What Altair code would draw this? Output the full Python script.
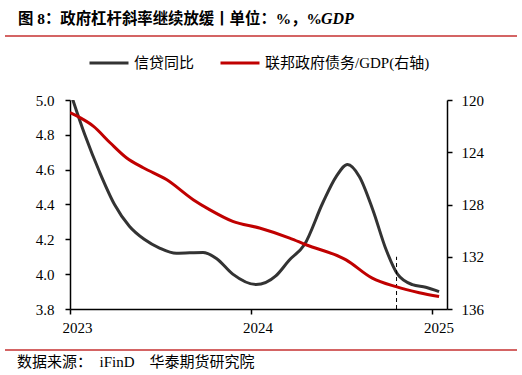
import altair as alt
import pandas as pd

# ---- data ----
series_names = ["信贷同比", "联邦政府债务/GDP(右轴)"]

credit_dates = ["2023-01-01", "2023-01-31", "2023-03-02", "2023-04-01", "2023-05-01",
                "2023-05-31", "2023-07-01", "2023-08-04", "2023-09-27", "2023-10-24",
                "2023-11-26", "2024-01-12", "2024-02-21", "2024-03-19", "2024-04-19",
                "2024-05-26", "2024-06-22", "2024-07-15", "2024-08-08", "2024-09-04",
                "2024-10-01", "2024-10-24", "2024-11-23", "2024-12-20", "2025-01-16"]
credit_values = [5.05, 4.80, 4.585, 4.40, 4.275,
                 4.20, 4.15, 4.12, 4.125, 4.09,
                 4.00, 3.94, 3.99, 4.08, 4.17,
                 4.41, 4.56, 4.63, 4.56, 4.37,
                 4.14, 4.00, 3.94, 3.925, 3.90]

debt_dates = ["2023-01-01", "2023-01-21", "2023-02-17", "2023-03-23", "2023-04-25",
              "2023-05-29", "2023-07-15", "2023-09-07", "2023-10-10", "2023-11-26",
              "2024-01-19", "2024-03-20", "2024-04-22", "2024-07-12", "2024-09-03",
              "2024-10-21", "2024-12-07", "2025-01-16"]
debt_values = [120.97, 121.35, 122.0, 123.27, 124.42,
               125.19, 126.09, 127.63, 128.39, 129.29,
               129.8, 130.57, 131.08, 132.24, 133.64,
               134.29, 134.75, 135.05]

marker_date = ["2024-10-22"]
marker_low = [3.8]
marker_high = [4.1]

years = [2023, 2024, 2025]
year_label_dates = ["2023-01-16", "2024-01-16", "2025-01-16"]
year_labels = ["2023", "2024", "2025"]
left_ticks = [3.8, 4.0, 4.2, 4.4, 4.6, 4.8, 5.0]
right_ticks = [120, 124, 128, 132, 136]

title_main = ["图 8：政府杠杆斜率继续放缓丨单位：%，%"]
title_tail = ["GDP"]
source_note = ["数据来源：\u00a0\u00a0iFinD\u00a0\u00a0\u00a0\u00a0华泰期货研究院"]

# ---- styles ----
SERIF = "Liberation Serif, Noto Sans CJK SC"
DARK = "#333333"
RED = "#c00000"

credit_df = pd.DataFrame({"date": credit_dates, "value": credit_values,
                          "series": series_names[0]})
debt_df = pd.DataFrame({"date": debt_dates, "value": debt_values,
                        "series": series_names[1]})
marker_df = pd.DataFrame({"date": marker_date, "value": marker_low, "value2": marker_high})
year_df = pd.DataFrame({"date": year_label_dates, "label": year_labels})

color_scale = alt.Scale(domain=series_names, range=[DARK, RED])

x_scale = alt.Scale(domain=[alt.DateTime(year=2023, month=1, date=1),
                            alt.DateTime(year=2025, month=2, date=1)])
x_axis = alt.Axis(values=[alt.DateTime(year=y, month=1, date=1) for y in years],
                  title=None, grid=False, labels=False)
x_enc = alt.X("date:T", scale=x_scale, axis=x_axis)

left_axis = alt.Axis(values=left_ticks, format=".1f", orient="left", title=None,
                     grid=False, labelPadding=11)
left_scale = alt.Scale(domain=[3.8, 5.0], zero=False, nice=False)

legend = alt.Legend(orient="none", legendX=18, legendY=-58, direction="horizontal",
                    title=None, symbolType="stroke", symbolSize=1521,
                    symbolStrokeWidth=3, labelFont=SERIF, labelFontSize=15,
                    labelColor="black", columnPadding=19, labelOffset=4, padding=0,
                    labelLimit=400)

black = alt.Chart(credit_df).mark_line(strokeWidth=3, interpolate="monotone", clip=True).encode(
    x=x_enc,
    y=alt.Y("value:Q", scale=left_scale, axis=left_axis),
    color=alt.Color("series:N", scale=color_scale, legend=legend),
)

marker = alt.Chart(marker_df).mark_rule(strokeWidth=1, strokeDash=[4, 3], color="black").encode(
    x=x_enc,
    y=alt.Y("value:Q", scale=left_scale, axis=left_axis),
    y2="value2:Q",
)

red = alt.Chart(debt_df).mark_line(strokeWidth=3, interpolate="monotone", clip=True).encode(
    x=x_enc,
    y=alt.Y("value:Q",
            scale=alt.Scale(domain=[120, 136], reverse=True, zero=False, nice=False),
            axis=alt.Axis(values=right_ticks, format="d", orient="right", title=None,
                          grid=False, labelPadding=9)),
    color=alt.Color("series:N", scale=color_scale, legend=legend),
)

year_text = alt.Chart(year_df).mark_text(
    align="center", baseline="alphabetic", fontSize=15, font="Liberation Serif",
    color="black").encode(
    x=alt.X("date:T", scale=x_scale, axis=x_axis), y=alt.value(233), text="label:N")

title1 = alt.Chart(pd.DataFrame({"t": title_main})).mark_text(
    align="left", baseline="alphabetic", fontSize=15.4, fontWeight="bold",
    font="Liberation Serif, Noto Sans CJK SC", color="black").encode(
    x=alt.value(-52), y=alt.value(-76), text="t:N")

title2 = alt.Chart(pd.DataFrame({"t": title_tail})).mark_text(
    align="left", baseline="alphabetic", fontSize=16, fontWeight="bold",
    fontStyle="italic", font="Liberation Serif", color="black").encode(
    x=alt.value(251), y=alt.value(-76), text="t:N")

rule_top = alt.Chart(pd.DataFrame({"k": [0]})).mark_rule(color="#d46464", strokeWidth=2).encode(
    x=alt.value(-65), x2=alt.value(447), y=alt.value(-64))
rule_bottom = alt.Chart(pd.DataFrame({"k": [0]})).mark_rule(color="#d46464", strokeWidth=2).encode(
    x=alt.value(-65), x2=alt.value(447), y=alt.value(250))

source = alt.Chart(pd.DataFrame({"t": source_note})).mark_text(
    align="left", baseline="alphabetic", fontSize=15, font=SERIF, color="black").encode(
    x=alt.value(-53), y=alt.value(267), text="t:N")

left_layer = alt.layer(black, marker, year_text)

chart = alt.layer(left_layer, red, title1, title2, rule_top, rule_bottom, source).resolve_scale(
    y="independent"
).properties(
    width=377, height=209,
    background="white",
    autosize=alt.AutoSizeParams(type="none"),
    padding={"left": 70, "top": 100, "right": 75, "bottom": 66},
).configure_view(stroke=None).configure_axis(
    domainColor="black", domainWidth=1.5, tickColor="black", tickSize=5,
    tickWidth=1.5, labelFont="Liberation Serif", labelFontSize=15, labelColor="black",
)

chart.save("out.html", embed_options={"renderer": "svg", "actions": False})
